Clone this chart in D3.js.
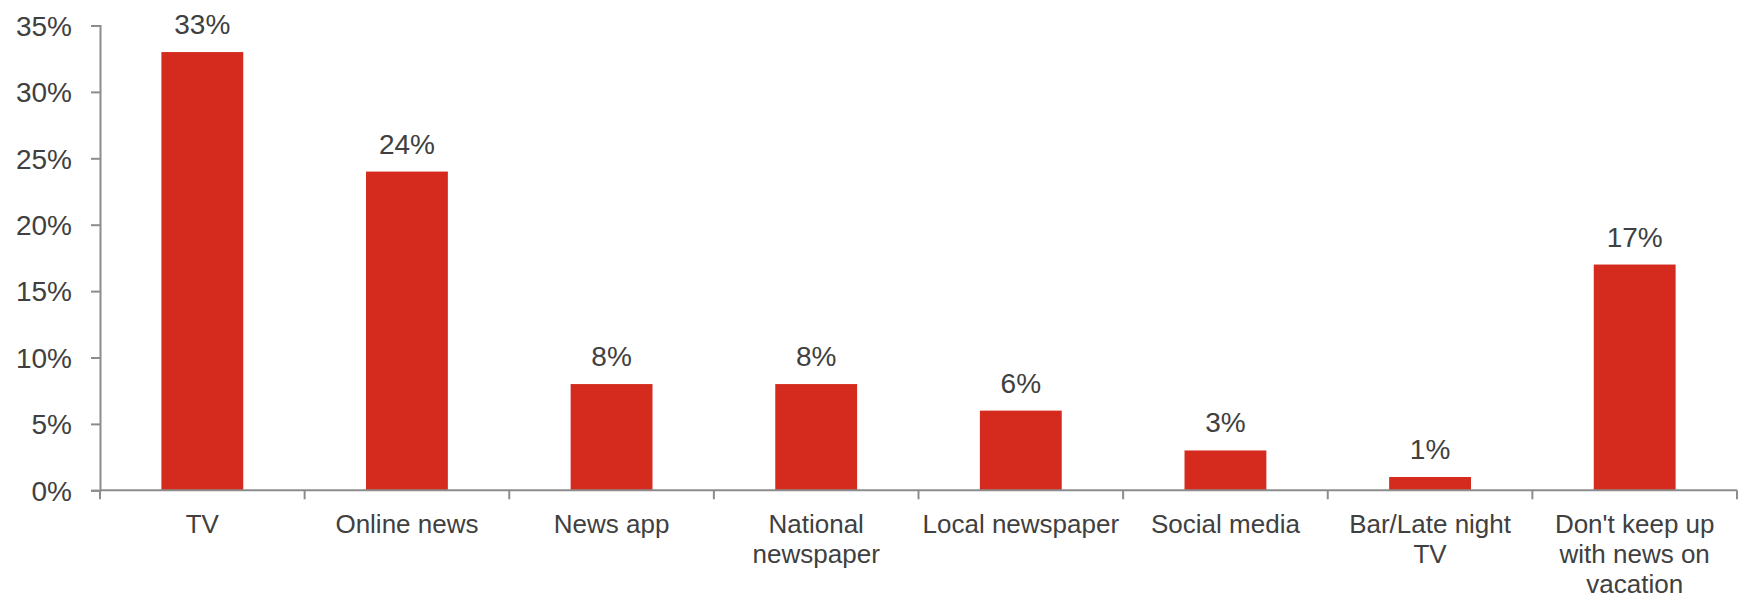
<!DOCTYPE html>
<html>
<head>
<meta charset="utf-8">
<script src="https://cdn.jsdelivr.net/npm/d3@7"></script>
<style>
  body { margin: 0; background: #fff; }
  #chart { width: 1742px; height: 600px; }
  text { font-family: "Liberation Sans", Arial, sans-serif; fill: #404040; }
</style>
</head>
<body>
<div id="chart"></div>
<script>

var categories = ["TV", "Online news", "News app", "National newspaper", "Local newspaper", "Social media", "Bar/Late night TV", "Don't keep up with news on vacation"];
var labelLines = [["TV"], ["Online news"], ["News app"], ["National", "newspaper"], ["Local newspaper"], ["Social media"], ["Bar/Late night", "TV"], ["Don't keep up", "with news on", "vacation"]];
var values = [33, 24, 8, 8, 6, 3, 1, 17];
var yTicks = [0, 5, 10, 15, 20, 25, 30, 35];

var width = 1742;
var height = 600;
var margin = {top: 25.5, right: 5, bottom: 110, left: 100};

var svg = d3.select("#chart")
    .append("svg")
    .attr("width", width)
    .attr("height", height);

var x = d3.scaleBand()
    .domain(categories)
    .range([margin.left, 1737])
    .paddingInner(0.6)
    .paddingOuter(0.3);

var y = d3.scaleLinear()
    .domain([0, 35])
    .range([490.3, margin.top]);

// bars
svg.selectAll("rect.bar")
    .data(values)
    .enter()
    .append("rect")
    .attr("class", "bar")
    .attr("x", function(d, i) { return x(categories[i]); })
    .attr("y", function(d) { return y(d); })
    .attr("width", x.bandwidth())
    .attr("height", function(d) { return y(0) - y(d); })
    .attr("fill", "#d52b1e");

// value labels
svg.selectAll("text.val")
    .data(values)
    .enter()
    .append("text")
    .attr("class", "val")
    .attr("x", function(d, i) { return x(categories[i]) + x.bandwidth() / 2; })
    .attr("y", function(d) { return y(d) - 18; })
    .attr("text-anchor", "middle")
    .attr("font-size", "28px")
    .text(function(d) { return d + "%"; });

// y axis
var yAxis = d3.axisLeft(y)
    .tickValues(yTicks)
    .tickSize(9)
    .tickPadding(19)
    .tickFormat(function(d) { return d + "%"; });

var yG = svg.append("g")
    .attr("transform", "translate(" + margin.left + ",0)")
    .call(yAxis);
yG.select(".domain").attr("stroke", "#8c8c8c").attr("stroke-width", 2);
yG.selectAll(".tick line").attr("stroke", "#8c8c8c").attr("stroke-width", 2);
yG.selectAll(".tick text")
    .attr("font-size", "28px")
    .attr("font-family", "Liberation Sans, Arial, sans-serif")
    .attr("fill", "#404040")
    .attr("dy", "0.35em");

// x axis: boundary ticks between bands
var step = x.step();
var x0 = x.range()[0];
var bounds = d3.range(categories.length + 1).map(function(i) { return x0 + i * step; });

svg.append("line")
    .attr("x1", x0)
    .attr("x2", bounds[bounds.length - 1])
    .attr("y1", y(0))
    .attr("y2", y(0))
    .attr("stroke", "#8c8c8c")
    .attr("stroke-width", 2);

svg.selectAll("line.xtick")
    .data(bounds)
    .enter()
    .append("line")
    .attr("class", "xtick")
    .attr("x1", function(d) { return d; })
    .attr("x2", function(d) { return d; })
    .attr("y1", y(0))
    .attr("y2", y(0) + 9)
    .attr("stroke", "#8c8c8c")
    .attr("stroke-width", 2);

// category labels
var labels = svg.selectAll("text.cat")
    .data(labelLines)
    .enter()
    .append("text")
    .attr("class", "cat")
    .attr("text-anchor", "middle")
    .attr("font-size", "26px")
    .attr("transform", function(d, i) {
        return "translate(" + (x(categories[i]) + x.bandwidth() / 2) + "," + 533 + ")";
    });

labels.selectAll("tspan")
    .data(function(d) { return d; })
    .enter()
    .append("tspan")
    .attr("x", 0)
    .attr("y", function(d, i) { return i * 30; })
    .text(function(d) { return d; });

</script>
</body>
</html>
